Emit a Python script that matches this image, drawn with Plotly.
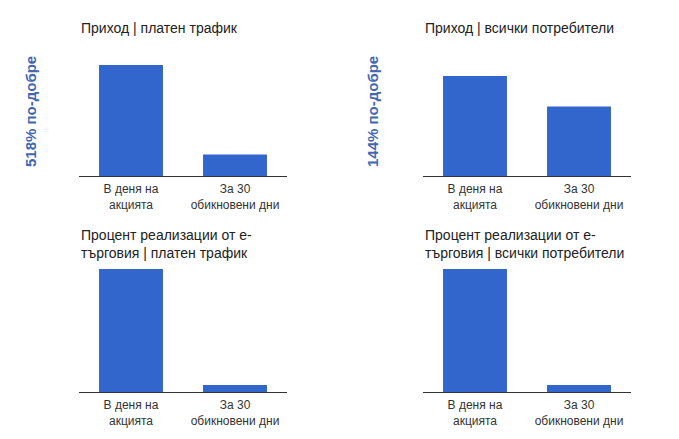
import plotly.graph_objects as go

W, H = 679, 439
OFF = 8  # page body margin

categories = ["В деня на<br>акцията", "За 30<br>обикновени дни"]

revenue_paid = [5.18, 1.0]
revenue_all = [1.44, 1.0]
conv_paid = [17.5, 1.0]
conv_all = [17.5, 1.0]

titles = [
    "Приход | платен трафик",
    "Приход | всички потребители",
    "Процент реализации от е-<br>търговия | платен трафик",
    "Процент реализации от е-<br>търговия | всички потребители",
]
side_labels = ["518% по-добре", "144% по-добре"]

BAR = "#3366cc"
TXT = "#222222"
SIDE = "#4267b2"
FONT = "Liberation Sans, Arial, sans-serif"


def px_x(v):
    return (v - OFF) / W


def px_y(v):
    return 1 - (v - OFF) / H


# (x0, x1, y_top, y_bottom) of each plot area in pixels
panels = [
    (79, 287, 65, 176),
    (423, 631, 76, 176),
    (79, 287, 269, 392),
    (423, 631, 269, 392),
]
series = [revenue_paid, revenue_all, conv_paid, conv_all]

fig = go.Figure()
layout = {}
for i, (vals, (x0, x1, yt, yb)) in enumerate(zip(series, panels)):
    n = "" if i == 0 else str(i + 1)
    fig.add_trace(go.Bar(
        x=categories, y=vals, marker_color=BAR, marker_line_width=0,
        xaxis="x" + n, yaxis="y" + n, showlegend=False, hoverinfo="skip",
    ))
    layout["xaxis" + n] = dict(
        domain=[px_x(x0), px_x(x1)], anchor="y" + n,
        showline=True, linecolor="#333333", linewidth=1,
        showgrid=False, zeroline=False, ticks="", fixedrange=True,
        tickfont=dict(family=FONT, size=12, color="#333333"),
        ticklabelstandoff=2,
    )
    layout["yaxis" + n] = dict(
        domain=[px_y(yb), px_y(yt)], anchor="x" + n,
        range=[0, max(vals)], visible=False, fixedrange=True,
    )

fig.update_layout(**layout)

annotations = []
title_pos = [(79, 28), (423, 28), (79, 244), (423, 244)]
for t, (tx, ty) in zip(titles, title_pos):
    annotations.append(dict(
        text=t, x=px_x(tx), y=px_y(ty), xref="paper", yref="paper",
        xanchor="left", yanchor="middle", align="left", showarrow=False,
        font=dict(family=FONT, size=14, color=TXT),
    ))
for t, (sx, sy) in zip(side_labels, [(30, 112), (372, 112)]):
    annotations.append(dict(
        text="<b>" + t + "</b>", x=px_x(sx), y=px_y(sy), xref="paper", yref="paper",
        xanchor="center", yanchor="middle", textangle=-90, showarrow=False,
        font=dict(family=FONT, size=15, color=SIDE),
    ))

fig.update_layout(
    width=W, height=H,
    margin=dict(l=0, r=0, t=0, b=0),
    paper_bgcolor="white", plot_bgcolor="white",
    bargap=0.385,
    annotations=annotations,
    font=dict(family=FONT),
)

fig.write_html("out.html", config={"displayModeBar": False})
